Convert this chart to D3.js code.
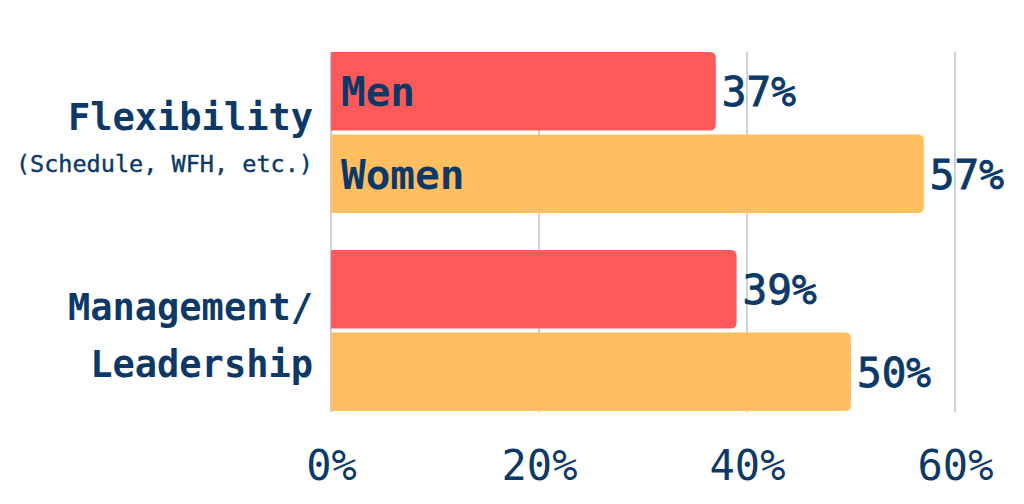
<!DOCTYPE html>
<html>
<head>
<meta charset="utf-8">
<script src="https://cdn.jsdelivr.net/npm/d3@7"></script>
<style>
html,body{margin:0;padding:0;background:#fff;}
svg{display:block;}
</style>
</head>
<body>
<svg id="chart" width="1024" height="504"></svg>
<script>
const categories = ["Flexibility", "Management/Leadership"];
const categoryLines = [["Flexibility"], ["Management/", "Leadership"]];
const categorySubtitles = ["(Schedule, WFH, etc.)", ""];
const series = ["Men", "Women"];
const menValues = [37, 39];
const womenValues = [57, 50];
const tickValues = [0, 20, 40, 60];
const tickLabels = ["0%", "20%", "40%", "60%"];

const colors = {Men: "#FF5656", Women: "#FFBB57"};
const navy = "#0D3968";
const grid = "#C7D2E0";
const mono = "'DejaVu Sans Mono', 'Liberation Mono', monospace";

const svg = d3.select("#chart");

const x = d3.scaleLinear().domain([0, 60]).range([331, 955]);
const y0 = d3.scaleBand().domain(categories).range([52, 411]).paddingInner(0.187).paddingOuter(0);
const y1 = d3.scaleBand().domain(series).range([0, y0.bandwidth()]).paddingInner(0.05);

const data = [];
categories.forEach((c, i) => {
  data.push({cat: c, s: "Men", v: menValues[i], i});
  data.push({cat: c, s: "Women", v: womenValues[i], i});
});

// gridlines
svg.append("g").selectAll("line").data(tickValues).join("line")
  .attr("x1", d => x(d)).attr("x2", d => x(d))
  .attr("y1", 52).attr("y2", 412)
  .attr("stroke", grid).attr("stroke-width", 2);

// bars with rounded right corners
function barPath(x0, x1, yt, h, r) {
  const w = x1 - x0;
  r = Math.min(r, w / 2, h / 2);
  return `M${x0},${yt}H${x1 - r}Q${x1},${yt} ${x1},${yt + r}V${yt + h - r}Q${x1},${yt + h} ${x1 - r},${yt + h}H${x0}Z`;
}
svg.append("g").selectAll("path").data(data).join("path")
  .attr("d", d => barPath(x(0), x(d.v), y0(d.cat) + y1(d.s), y1.bandwidth(), 6))
  .attr("fill", d => colors[d.s])
  .attr("fill-opacity", d => d.s === "Men" ? 0.98 : 0.95);

// series labels inside first group bars
svg.append("g").selectAll("text").data(data.filter(d => d.i === 0)).join("text")
  .attr("x", x(0) + 10)
  .attr("y", d => y0(d.cat) + y1(d.s) + y1.bandwidth() / 2 + 15)
  .attr("font-family", mono).attr("font-weight", "bold").attr("font-size", 41)
  .attr("fill", navy)
  .text(d => d.s);

// value labels
svg.append("g").selectAll("text").data(data).join("text")
  .attr("x", d => x(d.v) + 6)
  .attr("y", d => y0(d.cat) + y1(d.s) + y1.bandwidth() / 2 + 15)
  .attr("font-family", mono).attr("font-size", 41)
  .attr("fill", navy).attr("stroke", navy).attr("stroke-width", 0.9)
  .text(d => d.v + "%");

// category labels
const catG = svg.append("g");
categories.forEach((c, i) => {
  const cy = y0(c) + y0.bandwidth() / 2;
  const lines = categoryLines[i];
  if (lines.length === 1) {
    catG.append("text").attr("x", 313).attr("y", cy - 2.5)
      .attr("text-anchor", "end").attr("font-family", mono).attr("font-weight", "bold")
      .attr("font-size", 37).attr("fill", navy).text(lines[0]);
  } else {
    lines.forEach((l, j) => {
      catG.append("text").attr("x", 313).attr("y", cy - 10.5 + j * 57)
        .attr("text-anchor", "end").attr("font-family", mono).attr("font-weight", "bold")
        .attr("font-size", 37).attr("fill", navy).text(l);
    });
  }
  if (categorySubtitles[i]) {
    catG.append("text").attr("x", 313).attr("y", cy + 39.5)
      .attr("text-anchor", "end").attr("font-family", mono)
      .attr("font-size", 23.5).attr("fill", navy)
      .attr("stroke", navy).attr("stroke-width", 0.4).text(categorySubtitles[i]);
  }
});

// x axis
const axis = d3.axisBottom(x).tickValues(tickValues).tickFormat((d, i) => tickLabels[i]).tickSize(0).tickPadding(0);
const ax = svg.append("g").attr("transform", "translate(0,450)").call(axis);
ax.select(".domain").remove();
ax.selectAll("text")
  .attr("font-family", mono).attr("font-size", 42).attr("fill", navy)
  .attr("dy", "0.72em").attr("y", 0);
</script>
</body>
</html>
